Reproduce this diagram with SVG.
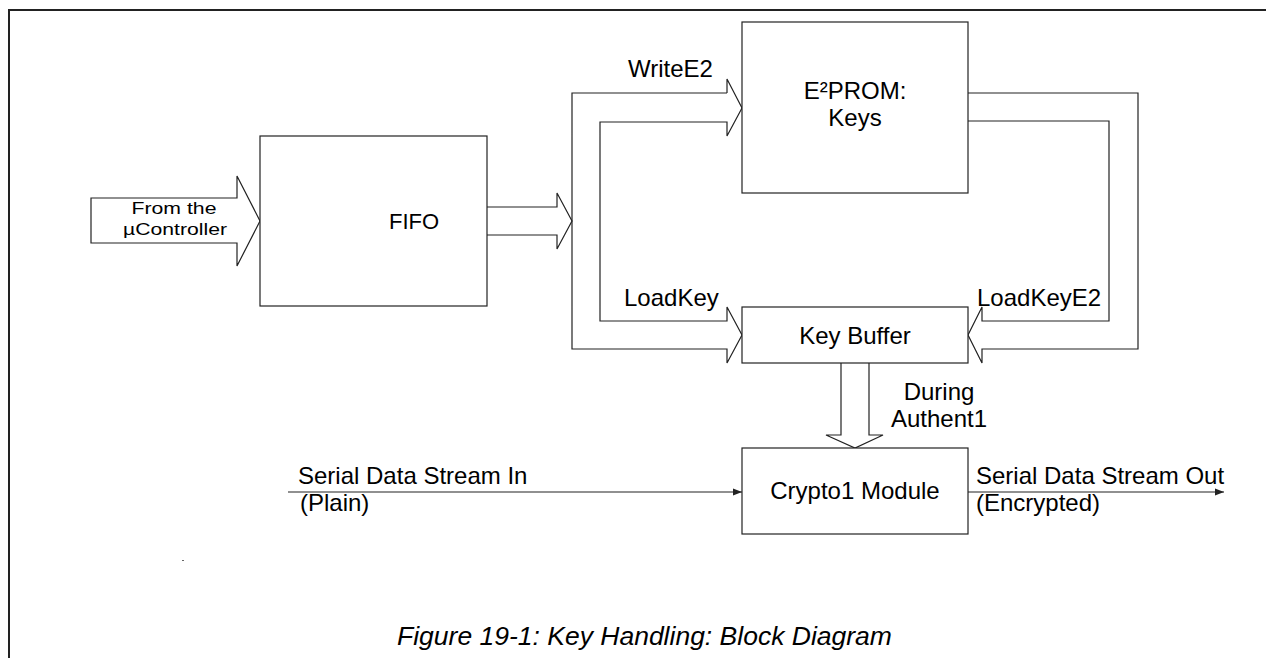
<svg xmlns="http://www.w3.org/2000/svg" width="1266" height="658" viewBox="0 0 1266 658">
<style>
.ln{fill:none;stroke:#222;stroke-width:1.2}
.bx{fill:#fff;stroke:#222;stroke-width:1.2}
.t{font-family:"Liberation Sans",Arial,sans-serif;font-size:24px;fill:#000}
.s{font-size:17px}
.f{font-size:22px}
.cap{font-size:26.5px;font-style:italic}
.c{text-anchor:middle}
</style>
<defs>
<marker id="ah" markerWidth="10" markerHeight="8" refX="9" refY="4" orient="auto" markerUnits="userSpaceOnUse">
<path d="M0,0.5 L9,4 L0,7.5 Z" fill="#222"/>
</marker>
</defs>
<rect width="1266" height="658" fill="#fff"/>
<path d="M9,658 V10 H1266" fill="none" stroke="#222" stroke-width="2"/>
<rect x="182" y="560" width="2" height="1" fill="#666"/>

<g id="connectors">
<path class="ln" d="M91,198 H237 V176 L260,221 L237,266 V243 H91 Z"/>
<path class="ln" d="M487,207 H557 V193 L572,221 L557,249 V235 H487"/>
<path class="ln" d="M727,93 H572 V349 H727 V363 L742,335 L727,307 V321 H600 V122 H727 V136 L742,108 L727,79 V93"/>
<path class="ln" d="M968,93 H1138 V349 H982 V363 L968,335 L982,307 V321 H1109 V121 H968"/>
<path class="ln" d="M841,363 V435 H826 L855,448 L883,435 H869 V363"/>
<line class="ln" x1="288" y1="492" x2="742" y2="492" marker-end="url(#ah)"/>
<line class="ln" x1="968" y1="492" x2="1224" y2="492" marker-end="url(#ah)"/>
</g>

<g id="fifo">
<rect class="bx" x="260" y="136" width="227" height="170"/>
<text class="t f" x="389" y="229">FIFO</text>
</g>
<g id="eeprom">
<rect class="bx" x="742" y="22" width="226" height="171"/>
<text class="t c" x="855" y="99">E²PROM:</text>
<text class="t c" x="855" y="126">Keys</text>
</g>
<g id="keybuffer">
<rect class="bx" x="742" y="307" width="226" height="56"/>
<text class="t c" x="855" y="344">Key Buffer</text>
</g>
<g id="crypto">
<rect class="bx" x="742" y="448" width="226" height="86"/>
<text class="t c" x="855" y="499">Crypto1 Module</text>
</g>

<g id="labels">
<text class="t s c" x="174" y="214" textLength="85" lengthAdjust="spacingAndGlyphs">From the</text>
<text class="t s c" x="175" y="235" textLength="104" lengthAdjust="spacingAndGlyphs">µController</text>
<text class="t" x="628" y="77">WriteE2</text>
<text class="t" x="624" y="306">LoadKey</text>
<text class="t" x="977" y="306">LoadKeyE2</text>
<text class="t c" x="939" y="400">During</text>
<text class="t c" x="939" y="427">Authent1</text>
<text class="t" x="298" y="484">Serial Data Stream In</text>
<text class="t" x="300" y="511">(Plain)</text>
<text class="t" x="976" y="484">Serial Data Stream Out</text>
<text class="t" x="976" y="511">(Encrypted)</text>
<text class="t cap" x="397" y="645">Figure 19-1: Key Handling: Block Diagram</text>
</g>
</svg>
